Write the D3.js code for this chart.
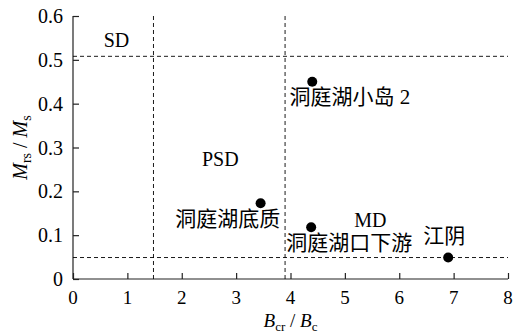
<!DOCTYPE html>
<html>
<head>
<meta charset="utf-8">
<script src="https://cdn.jsdelivr.net/npm/d3@7"></script>
<style>
  body { margin: 0; background: #fff; }
  svg text { font-family: "Liberation Serif", "Times New Roman", serif; fill: #000; }
  .cjk { font-family: "Liberation Serif", "Noto Sans CJK SC", serif; }
</style>
</head>
<body>
<div id="chart"></div>
<script>
// data
var xTicks = [0, 1, 2, 3, 4, 5, 6, 7, 8];
var yTicks = [0, 0.1, 0.2, 0.3, 0.4, 0.5, 0.6];
var sites = ["洞庭湖小岛 2", "洞庭湖底质", "洞庭湖口下游", "江阴"];
var ratioB = [4.4, 3.45, 4.38, 6.9];
var ratioM = [0.45, 0.173, 0.118, 0.049];
// where each site label sits (data coords)
var labelX = [3.98, 1.88, 3.92, 6.44];
var labelY = [0.4, 0.121, 0.066, 0.083];
// domain boundaries
var hLines = [0.508, 0.049];
var vLines = [1.48, 3.9];
var regions = ["SD", "PSD", "MD"];
var regionX = [0.8, 2.71, 5.47];
var regionY = [0.53, 0.258, 0.119];

var width = 517, height = 334;
var margin = { top: 16, right: 9, bottom: 55, left: 73 };

var svg = d3.select("#chart")
  .append("svg")
  .attr("width", width)
  .attr("height", height);

var x = d3.scaleLinear().domain([0, 8]).range([margin.left, width - margin.right]);
var y = d3.scaleLinear().domain([0, 0.6]).range([height - margin.bottom, margin.top]);

// axes, ticks pointing inward
var xAxis = svg.append("g")
  .attr("transform", `translate(0, ${y(0)})`)
  .call(d3.axisTop(x).tickValues(xTicks).tickSize(6).tickFormat(""));
xAxis.select(".domain").attr("d", `M${x(0)},0H${x(8)}`);
svg.append("g").selectAll("text")
  .data(xTicks)
  .enter()
  .append("text")
  .attr("x", d => x(d))
  .attr("y", y(0) + 25)
  .attr("text-anchor", "middle")
  .style("font-size", "19px")
  .text(d => d);

var yAxis = svg.append("g")
  .attr("transform", `translate(${x(0)}, 0)`)
  .call(d3.axisRight(y).tickValues(yTicks).tickSize(6).tickFormat(""));
yAxis.select(".domain").attr("d", `M0,${y(0)}V${y(0.6)}`);
svg.append("g").selectAll("text")
  .data(yTicks)
  .enter()
  .append("text")
  .attr("x", x(0) - 10)
  .attr("y", d => y(d) + 7)
  .attr("text-anchor", "end")
  .style("font-size", "20px")
  .text(d => d);

svg.selectAll(".domain, .tick line").attr("stroke", "#222").attr("stroke-width", 1.2);

// dashed boundaries
svg.selectAll(".hline")
  .data(hLines)
  .enter()
  .append("line")
  .attr("x1", x(0)).attr("x2", x(8))
  .attr("y1", d => y(d)).attr("y2", d => y(d))
  .attr("stroke", "#000")
  .attr("stroke-width", 0.9)
  .attr("stroke-dasharray", "4,3");

svg.selectAll(".vline")
  .data(vLines)
  .enter()
  .append("line")
  .attr("x1", d => x(d)).attr("x2", d => x(d))
  .attr("y1", y(0)).attr("y2", y(0.6))
  .attr("stroke", "#000")
  .attr("stroke-width", 0.9)
  .attr("stroke-dasharray", "4,3");

// region names
svg.selectAll(".region")
  .data(regions)
  .enter()
  .append("text")
  .attr("x", (d, i) => x(regionX[i]))
  .attr("y", (d, i) => y(regionY[i]))
  .attr("text-anchor", "middle")
  .style("font-size", "20px")
  .text(d => d);

// points
svg.selectAll(".pt")
  .data(sites)
  .enter()
  .append("circle")
  .attr("cx", (d, i) => x(ratioB[i]))
  .attr("cy", (d, i) => y(ratioM[i]))
  .attr("r", 5)
  .attr("fill", "#000");

svg.selectAll(".site")
  .data(sites)
  .enter()
  .append("text")
  .attr("class", "cjk")
  .attr("x", (d, i) => x(labelX[i]))
  .attr("y", (d, i) => y(labelY[i]))
  .style("font-size", "21px")
  .text(d => d);

// axis titles
var yt = svg.append("text")
  .attr("transform", `translate(27, ${y(0.3)}) rotate(-90)`)
  .attr("text-anchor", "middle")
  .style("font-size", "20px");
yt.append("tspan").style("font-style", "italic").text("M");
yt.append("tspan").attr("dy", 4).style("font-size", "14px").text("rs");
yt.append("tspan").attr("dy", -4).text(" / ");
yt.append("tspan").style("font-style", "italic").text("M");
yt.append("tspan").attr("dy", 4).style("font-size", "14px").text("s");

var xt = svg.append("text")
  .attr("x", x(4))
  .attr("y", height - 7)
  .attr("text-anchor", "middle")
  .style("font-size", "19px");
xt.append("tspan").style("font-style", "italic").text("B");
xt.append("tspan").attr("dy", 4).style("font-size", "13px").text("cr");
xt.append("tspan").attr("dy", -4).text(" / ");
xt.append("tspan").style("font-style", "italic").text("B");
xt.append("tspan").attr("dy", 4).style("font-size", "13px").text("c");
</script>
</body>
</html>
